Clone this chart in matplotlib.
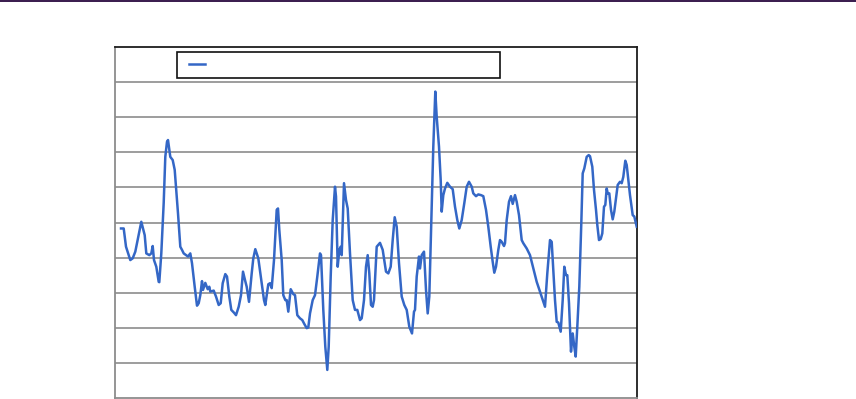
import matplotlib
matplotlib.use("Agg")
import matplotlib.pyplot as plt
from matplotlib.patches import Rectangle
from matplotlib.lines import Line2D

# time positions (arbitrary period units) and series values (gridlines every 10)
periods = [6, 8.7, 11, 15.3, 17.7, 20.3, 26.3, 29.7, 31.3, 34.3, 36.3, 37.7, 39, 41.3, 43.7, 44.3,
           46.3, 48.7, 50.3, 52, 53, 55.3, 57.7, 59.7, 63, 65.3, 67, 68.7, 73, 75.3, 77, 79.7,
           82, 83.7, 85.3, 87, 88, 90.3, 92.7, 94.3, 95.3, 98.7, 101, 103.7, 105.7, 107.7, 110.3,
           112, 114.3, 116.3, 119, 121, 123.7, 126, 128, 130, 131.7, 134, 136.7, 138.3, 140.3,
           143.3, 146.7, 149, 150.3, 153.3, 155, 156.7, 159, 161.7, 163, 164.3, 166.7, 168.3,
           170.3, 171.7, 173.3, 175.7, 178.3, 180, 182.3, 185, 187.3, 189.3, 191.7, 193.3, 195,
           197.7, 200, 202.3, 205, 206, 208.3, 210.3, 212.3, 213.7, 215.7, 217.7, 220, 221,
           222.7, 224.3, 225.7, 226.7, 229, 231, 232.7, 235, 237.7, 240, 242.3, 245, 246.7, 249,
           251, 252.7, 254.3, 256, 257.7, 259, 261.7, 265, 267.7, 271, 273.3, 275.7, 277.7,
           279.7, 281.7, 284, 286.7, 289.3, 291.7, 294.3, 297, 299, 300, 301.7, 304, 305, 306.7,
           309, 311, 312.7, 314.3, 316.3, 318.3, 320.3, 321.7, 324, 325.7, 326.7, 328.3, 330,
           332.3, 335, 337.7, 340, 342.3, 344.3, 346.7, 349.3, 351.7, 354, 356.7, 358.3, 361,
           363.3, 366, 368.3, 371, 373.3, 375.7, 377.7, 379.3, 381, 383.3, 385, 386.7, 389, 390,
           391.7, 394, 396, 397.7, 400, 401.7, 404, 406.7, 408.3, 411.7, 415, 418.3, 421.7, 425,
           428.3, 430, 432.3, 435, 436.7, 438.3, 440, 441.7, 443.3, 445.7, 447.7, 449.3, 451,
           452.3, 454, 456, 457.7, 459.3, 460.7, 462.3, 464.3, 466.3, 467.7, 469.3, 471.7, 473.7,
           475, 477.3, 479, 481, 482.3, 484, 485.7, 487.3, 489, 490.3, 491.7, 492.7, 494.3, 496,
           497.7, 499.3, 501, 502.7, 505, 506.7, 508.3, 510.3, 511.7, 513.3, 515, 517.7, 519.3,
           521.7]
values = [48.3, 48.3, 43.1, 39.3, 39.8, 41.7, 50.2, 46.4, 41.2, 40.7, 41.2, 43.3, 39.3, 37.4, 33.1, 33.0,
          41.2, 55.6, 68.7, 73.0, 73.5, 68.7, 67.8, 65.0, 52.6, 43.1, 42.2, 41.2, 40.3, 41.2, 38.4, 31.7,
          26.3, 27.0, 29.3, 33.3, 30.8, 32.8, 31.0, 31.7, 30.3, 30.6, 28.9, 26.5, 27.0, 32.7, 35.3,
          34.6, 28.9, 25.1, 24.3, 23.6, 26.0, 29.3, 36.0, 33.6, 31.7, 27.4, 35.5, 39.8, 42.4,
          39.8, 32.7, 27.9, 26.5, 32.4, 32.7, 31.3, 39.3, 53.6, 54.0, 47.9, 39.3, 29.3,
          27.9, 27.9, 24.6, 31.0, 29.6, 29.3, 23.6, 22.7, 22.2, 21.1, 19.9, 20.1, 24.1,
          27.9, 29.3, 34.6, 41.2, 40.7, 25.1, 14.6, 8.0, 14.6, 34.6, 50.7, 60.2, 57.4,
          37.4, 42.2, 43.1, 40.7, 61.2, 56.4, 54.0, 41.2, 27.9, 25.1, 25.1, 22.2, 22.7, 27.9,
          37.4, 40.7, 35.5, 26.5, 26.0, 27.9, 43.1, 44.2, 42.2, 36.0, 35.5, 37.4, 45.0,
          51.5, 48.8, 38.4, 28.9, 26.5, 25.1, 20.3, 18.4, 24.6, 25.1, 34.6, 40.3, 36.9, 40.7,
          41.7, 30.8, 24.1, 28.9, 50.7, 71.6, 87.3, 80.1, 71.6, 62.1, 53.1, 57.8, 59.7,
          61.3, 60.2, 59.5, 54.5, 50.7, 48.3, 50.7, 55.5, 60.2, 61.6, 60.2, 58.3, 57.5,
          58.0, 57.8, 57.5, 53.6, 48.8, 43.1, 38.8, 35.7, 37.4, 42.2, 45.0, 44.5, 43.3, 44.1,
          50.7, 55.9, 57.5, 55.3, 57.8, 55.9, 52.1, 45.0, 44.1, 42.6, 40.7, 36.9, 33.1, 30.3,
          27.4, 26.0, 35.5, 45.0, 44.5, 36.5, 27.9, 21.7, 21.5, 18.9, 27.9, 37.4, 35.0,
          35.0, 27.0, 13.2, 18.4, 14.6, 11.8, 20.3, 31.7, 49.8, 64.0, 65.4, 68.7, 69.2,
          68.9, 65.9, 59.3, 53.6, 49.3, 45.0, 45.3, 46.9, 54.5, 55.0, 59.7, 58.3, 58.3, 53.6,
          50.9, 53.1, 56.9, 60.7, 61.6, 61.2, 63.0, 67.6, 66.4, 62.1, 57.8, 52.1, 51.7,
          48.8]
y_gridlines = [10, 20, 30, 40, 50, 60, 70, 80, 90]

W, H = 856, 399
fig = plt.figure(figsize=(W / 100, H / 100), dpi=100)
fig.patch.set_facecolor("white")

ax = fig.add_axes([115 / W, 1 / H, 522 / W, 351 / H])
ax.set_xlim(0, 522)
ax.set_ylim(0, 100)

for g in y_gridlines:
    ax.axhline(g, color="#8c8c8c", lw=1.2, zorder=1)

ax.plot(periods, values, color="#3467c6", lw=1.8, zorder=3, solid_joinstyle="round")

ax.set_xticks([])
ax.set_yticks([])
for side in ["left", "bottom"]:
    ax.spines[side].set_color("#8c8c8c")
    ax.spines[side].set_linewidth(1.3)
for side in ["top", "right"]:
    ax.spines[side].set_color("#1e1e1e")
    ax.spines[side].set_linewidth(1.3)

# top dark band
fig.patches.append(Rectangle((0, (H - 2.2) / H), 1, 2.2 / H, transform=fig.transFigure,
                             facecolor="#3c1f50", edgecolor="none", zorder=10))

# legend box (no text)
fig.patches.append(Rectangle((177 / W, (H - 78) / H), 323 / W, 26.5 / H,
                             transform=fig.transFigure, facecolor="white",
                             edgecolor="#111111", linewidth=1.2, zorder=10))
fig.lines.append(Line2D([188.5 / W, 205 / W], [(H - 64.3) / H, (H - 64.3) / H],
                        transform=fig.transFigure, color="#3467c6", lw=1.8, zorder=11))

fig.savefig("out.png", dpi=100)
